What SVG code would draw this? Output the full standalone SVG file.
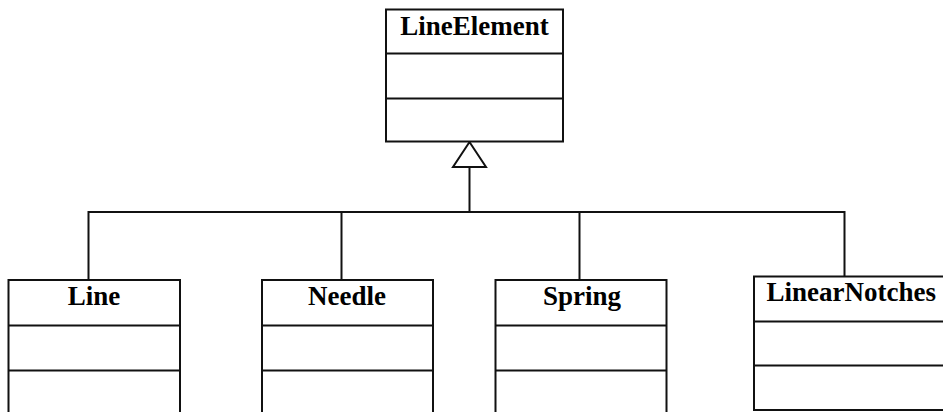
<svg xmlns="http://www.w3.org/2000/svg" width="943" height="412" viewBox="0 0 943 412">
  <style>
    .box { fill: #fff; stroke: #111; stroke-width: 2; }
    .div { stroke: #111; stroke-width: 2; }
    .wire { fill: none; stroke: #111; stroke-width: 2; }
    .name { font-family: "Liberation Serif", "Times New Roman", serif; font-weight: bold; font-size: 27px; fill: #000; text-anchor: middle; }
  </style>
  <rect width="943" height="412" fill="#fff"/>

  <!-- generalization connectors -->
  <g id="connectors">
    <polyline class="wire" points="88.5,280 88.5,212 844.5,212 844.5,276.5"/>
    <line class="wire" x1="341.5" y1="212" x2="341.5" y2="280"/>
    <line class="wire" x1="579.5" y1="212" x2="579.5" y2="280"/>
    <line class="wire" x1="469.5" y1="212" x2="469.5" y2="167"/>
    <polygon class="box" points="469.5,142 453,167 486,167"/>
  </g>

  <g id="LineElement">
    <rect class="box" x="386" y="9.5" width="177" height="132"/>
    <line class="div" x1="386" y1="53.5" x2="563" y2="53.5"/>
    <line class="div" x1="386" y1="98.5" x2="563" y2="98.5"/>
    <text class="name" x="474.5" y="35">LineElement</text>
  </g>

  <g id="Line">
    <rect class="box" x="8.5" y="280" width="171.5" height="150"/>
    <line class="div" x1="8.5" y1="325.5" x2="180" y2="325.5"/>
    <line class="div" x1="8.5" y1="370.5" x2="180" y2="370.5"/>
    <text class="name" x="94" y="305">Line</text>
  </g>

  <g id="Needle">
    <rect class="box" x="262" y="280" width="171" height="150"/>
    <line class="div" x1="262" y1="325.5" x2="433" y2="325.5"/>
    <line class="div" x1="262" y1="370.5" x2="433" y2="370.5"/>
    <text class="name" x="347" y="305">Needle</text>
  </g>

  <g id="Spring">
    <rect class="box" x="495.5" y="280" width="171" height="150"/>
    <line class="div" x1="495.5" y1="325.5" x2="666.5" y2="325.5"/>
    <line class="div" x1="495.5" y1="370.5" x2="666.5" y2="370.5"/>
    <text class="name" x="582" y="305">Spring</text>
  </g>

  <g id="LinearNotches">
    <rect class="box" x="754" y="276.5" width="200" height="133.5"/>
    <line class="div" x1="754" y1="321.5" x2="954" y2="321.5"/>
    <line class="div" x1="754" y1="365.5" x2="954" y2="365.5"/>
    <text class="name" x="766.5" y="301" style="text-anchor: start">LinearNotches</text>
  </g>
</svg>
